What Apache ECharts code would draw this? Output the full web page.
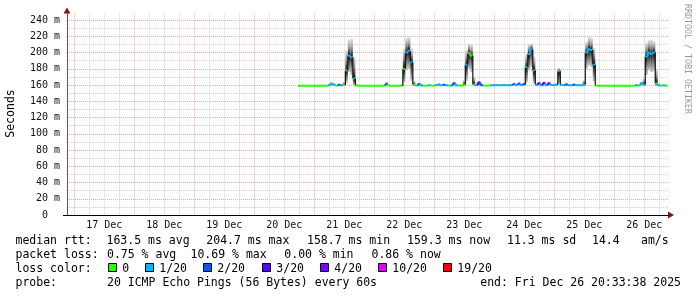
<!DOCTYPE html>
<html><head><meta charset="utf-8">
<script src="https://cdn.jsdelivr.net/npm/echarts@6/dist/echarts.min.js"></script>
<style>html,body{margin:0;padding:0;background:#fff}#c{width:697px;height:297px}</style>
</head><body><div id="c"></div>
<script>
// time of first sample, in hours since 17 Dec 00:00, and spacing of samples
const startHour = 90;
const stepHours = 1;

// median RTT (ms) per sample
const median = [
159.0,159.1,159.0,159.2,159.0,159.1,159.0,159.1,159.0,159.2,
159.0,159.1,159.6,161.5,160.4,159.3,160.2,159.6,160.0,178,
196,194,168,159.3,159.1,159.0,159.2,159.0,159.1,159.0,
159.2,159.0,159.1,159.0,159.2,161.2,159.3,159.0,159.1,159.0,
159.2,159.1,180,200,202,188,160.2,159.4,161.0,159.4,
159.2,159.1,159.6,159.2,159.1,160.1,160.5,159.6,160.2,159.6,
159.3,159.4,162.0,159.6,159.3,159.3,160.5,185,199,196,
160.5,159.6,163.0,159.7,159.3,159.2,159.3,159.6,159.7,159.8,
159.6,159.7,159.9,159.7,159.6,159.8,161.0,160.0,161.5,159.8,
161.0,182,198,204,178,160.2,162.0,159.6,162.5,159.6,
162.0,160.0,159.8,160.4,177,160.0,159.7,160.5,159.7,159.6,
160.3,159.7,159.8,159.6,160.5,200,204,203,185,159.2,
159.0,159.1,159.0,159.2,159.0,159.1,159.0,159.1,159.0,159.2,
159.0,159.1,159.0,159.1,159.2,159.5,159.3,162.0,160.5,195,
200,198,200,162,159.5,159.3,159.5,159.2
];
// loss level index per sample (0 -> 0, 1 -> 1/20, 2 -> 2/20, 3 -> 3/20 ...)
const loss = [
0,0,0,0,0,0,0,0,0,0,
0,0,1,1,1,0,2,1,0,0,
1,1,1,0,0,0,0,0,0,0,
0,0,0,0,0,2,0,0,0,0,
0,0,0,1,1,1,0,0,2,1,
0,0,1,0,0,1,1,1,2,1,
0,1,2,1,0,0,0,1,0,0,
0,1,3,2,0,0,0,1,1,1,
1,1,1,1,1,1,2,1,2,1,
2,1,1,1,1,1,3,1,3,1,
3,1,1,1,1,1,1,2,1,1,
2,1,1,1,1,1,1,1,1,0,
0,0,0,0,0,0,0,0,0,0,
0,0,0,0,0,1,0,1,1,1,
1,1,1,0,1,0,1,0
];
// smoke: lowest and highest ping (ms) per sample
const smokeLo = [
158.7,158.8,158.7,158.8,158.7,158.8,158.7,158.8,158.7,158.8,
158.7,158.8,158.9,159.4,159.0,158.9,159.0,158.9,159.0,163,
176,172,160,158.9,158.8,158.7,158.8,158.7,158.8,158.7,
158.8,158.7,158.8,158.7,158.8,159.2,158.9,158.7,158.8,158.7,
158.8,158.8,163,178,180,165,159.0,158.9,159.2,158.9,
158.8,158.8,158.9,158.8,158.8,159.0,159.1,158.9,159.0,158.9,
158.9,158.9,159.3,158.9,158.9,158.9,159.0,165,180,176,
159.0,158.9,159.5,159.0,158.9,158.8,158.9,158.9,159.0,159.0,
158.9,159.0,159.1,159.0,158.9,159.0,159.2,159.1,159.3,159.0,
159.2,163,178,182,162,159.1,159.5,158.9,159.6,158.9,
159.5,159.1,159.0,159.2,162,159.1,159.0,159.3,159.0,158.9,
159.2,159.0,159.0,158.9,159.0,180,184,182,165,158.9,
158.7,158.8,158.7,158.8,158.7,158.8,158.7,158.8,158.7,158.8,
158.7,158.8,158.7,158.8,158.8,158.9,158.9,159.4,159.0,172,
178,176,177,159.0,158.9,158.9,158.9,158.8
];
const smokeHi = [
159.6,159.7,159.8,159.9,159.6,159.7,159.8,159.7,159.6,159.9,
159.7,159.8,161.0,163.5,162.0,160.2,162.0,161.0,164.0,203,
216,217,195,161.0,159.8,159.7,159.9,159.6,159.8,159.7,
159.9,159.7,159.8,159.7,159.9,163.5,160.2,159.7,159.8,159.7,
159.9,160.5,205,218,219,205,165,160.5,163.0,161.0,
160.2,159.9,161.0,160.2,160.0,161.5,162.0,161.0,162.0,161.0,
160.4,161.0,164.0,161.0,160.3,160.5,166,203,211,210,
170,161.0,165.0,161.5,160.2,160.1,160.2,161.0,161.0,161.2,
161.0,161.0,161.5,161.0,161.0,161.2,163.0,161.5,163.5,161.2,
163.0,198,210,211,196,162.0,164.0,161.0,164.5,161.0,
164.0,161.5,161.2,162.0,181,161.5,161.0,162.5,161.0,161.0,
162.0,161.0,161.2,161.0,166,213,219,218,206,160.2,
159.6,159.7,159.8,159.9,159.6,159.7,159.8,159.7,159.6,159.9,
159.7,159.8,159.7,159.8,160.0,161.0,160.2,164.0,168,212,
215,216,214,180,161.0,160.2,161.0,159.8
];

const lossLabels = ['0','1/20','2/20','3/20','4/20','10/20','19/20'];
const lossColors = ['#26ff00','#00b8ff','#0059ff','#5e00ff','#7e00ff','#dd00ff','#ff0000'];
const dayLabels = ['17 Dec','18 Dec','19 Dec','20 Dec','21 Dec','22 Dec','23 Dec','24 Dec','25 Dec','26 Dec'];
const yTickValues = [0,20,40,60,80,100,120,140,160,180,200,220,240];
const yTickLabels = ['0  ','20 m','40 m','60 m','80 m','100 m','120 m','140 m','160 m','180 m','200 m','220 m','240 m'];

const legendRtt = [['median rtt:',15.5],['163.5 ms avg',106.5],['204.7 ms max',206.3],['158.7 ms min',307],['159.3 ms now',407],['11.3 ms sd',507],['14.4',592],['am/s',641]];
const legendLoss = [['packet loss:',15.5],['0.75 % avg',107],['10.69 % max',190.5],['0.00 % min',284.3],['0.86 % now',371.5]];
const legendProbe = [['probe:',15.5],['20 ICMP Echo Pings (56 Bytes) every 60s',107]];
const endText = 'end: Fri Dec 26 20:33:38 2025';
const boxX = [108,145,203,262,320,378,443];

const MONO = '"DejaVu Sans Mono", monospace';
const RED = '#efa9a9';
const GRAY = '#cfcfcf';

const rows = median.map((m, i) => [startHour + i * stepHours, smokeLo[i], smokeHi[i], m, loss[i]]);

const chart = echarts.init(document.getElementById('c'), null, {renderer: 'canvas'});

const graphics = [];
function txt(x, y, s, extra) {
  graphics.push(Object.assign({type: 'text', x: x, y: y, silent: true,
    style: {text: s, font: '11.5px ' + MONO, fill: '#000', align: 'left', verticalAlign: 'middle'}}, extra || {}));
}
legendRtt.forEach(a => txt(a[1], 241, a[0]));
legendLoss.forEach(a => txt(a[1], 255, a[0]));
txt(15.5, 269, 'loss color:');
boxX.forEach((bx, k) => {
  graphics.push({type: 'rect', silent: true, shape: {x: bx + 0.5, y: 263.5, width: 8, height: 8},
    style: {fill: lossColors[k], stroke: '#000', lineWidth: 1}});
  txt(bx + 14.3, 269, lossLabels[k]);
});
legendProbe.forEach(a => txt(a[1], 283, a[0]));
graphics.push({type: 'text', x: 681, y: 283, silent: true,
  style: {text: endText, font: '11.5px ' + MONO, fill: '#000', align: 'right', verticalAlign: 'middle'}});
graphics.push({type: 'text', x: 11, y: 113.5, rotation: Math.PI / 2, silent: true,
  style: {text: 'Seconds', font: '11.5px ' + MONO, fill: '#000', align: 'center', verticalAlign: 'middle'}});
graphics.push({type: 'text', x: 687.5, y: 59, rotation: -Math.PI / 2, silent: true,
  style: {text: 'RRDTOOL / TOBI OETIKER', font: '8.3px ' + MONO, fill: '#9a9a9a', align: 'center', verticalAlign: 'middle'}});
// axis arrows and short axis extension left of the y axis
graphics.push({type: 'polygon', silent: true, shape: {points: [[63.5, 13.5], [70.5, 13.5], [67, 7.5]]}, style: {fill: '#8b1010'}});
graphics.push({type: 'polygon', silent: true, shape: {points: [[668, 211.5], [668, 218.5], [674, 215]]}, style: {fill: '#8b1010'}});
graphics.push({type: 'line', silent: true, shape: {x1: 63, y1: 215.5, x2: 67, y2: 215.5}, style: {stroke: '#000', lineWidth: 1}});

const option = {
  animation: false,
  backgroundColor: '#ffffff',
  grid: [
    {left: 67, right: 29, top: 13.5, bottom: 82},
    {left: 74.3, right: 37.7, top: 13.5, bottom: 82},
    {left: 67, right: 29, top: 20, bottom: 82}
  ],
  xAxis: [
    {gridIndex: 0, type: 'value', min: -2.9, max: 237.6,
      axisLine: {show: true, onZero: false, lineStyle: {color: '#000', width: 1}},
      axisTick: {show: false}, axisLabel: {show: false}, splitLine: {show: false}},
    {gridIndex: 1, type: 'value', min: 0, max: 234, interval: 6,
      axisLine: {show: false}, axisTick: {show: false},
      axisLabel: {interval: 0, margin: 5, fontFamily: MONO, fontSize: 10, color: '#111',
        formatter: v => (v % 24 === 12 ? dayLabels[(v - 12) / 24] : '')},
      splitLine: {show: true, lineStyle: {color: [RED, GRAY, GRAY, GRAY], width: 1, type: [1, 1]}}},
    {gridIndex: 2, type: 'value', min: 0, max: 1, show: false}
  ],
  yAxis: [
    {gridIndex: 0, type: 'value', min: 0, max: 248,
      axisLine: {show: true, onZero: false, lineStyle: {color: '#555', width: 1}},
      axisTick: {show: false}, axisLabel: {show: false}, splitLine: {show: false}},
    {gridIndex: 1, type: 'value', min: 0, max: 1, show: false},
    {gridIndex: 2, type: 'value', min: 0, max: 240, interval: 10,
      axisLine: {show: false}, axisTick: {show: false},
      axisLabel: {margin: 7, fontFamily: MONO, fontSize: 10, color: '#111',
        formatter: v => { const k = yTickValues.indexOf(v); return k >= 0 ? yTickLabels[k] : ''; }},
      splitLine: {show: true, lineStyle: {color: [RED, GRAY], width: 1, type: [1, 1]}}}
  ],
  series: [
    {type: 'custom', xAxisIndex: 0, yAxisIndex: 0, data: rows, encode: {x: 0, y: [1, 2]}, silent: true,
      renderItem: function (params, api) {
        const t = api.value(0), lo = api.value(1), hi = api.value(2), med = api.value(3);
        const a = api.coord([t - stepHours / 2, hi]);
        const b = api.coord([t + stepHours / 2, lo]);
        const ym = api.coord([t, med])[1];
        const h = b[1] - a[1];
        if (h < 0.6) return {type: 'group', children: []};
        let m = (ym - a[1]) / h;
        m = Math.min(0.97, Math.max(0.03, m));
        return {type: 'rect', shape: {x: a[0], y: a[1], width: b[0] - a[0], height: h},
          style: {fill: {type: 'linear', x: 0, y: 0, x2: 0, y2: 1, colorStops: [
            {offset: 0, color: '#e2e2e2'},
            {offset: m * 0.5, color: '#949494'},
            {offset: m, color: '#080808'},
            {offset: m + (1 - m) * 0.5, color: '#6e6e6e'},
            {offset: 1, color: '#c8c8c8'}]}}};
      }},
    {type: 'custom', xAxisIndex: 0, yAxisIndex: 0, data: rows, encode: {x: 0, y: 3}, silent: true, z: 5,
      renderItem: function (params, api) {
        const i = params.dataIndex;
        const t = api.value(0), med = api.value(3);
        const col = lossColors[api.value(4)];
        const a = api.coord([t - stepHours / 2, med]);
        const b = api.coord([t + stepHours / 2, med]);
        const children = [];
        if (i > 0) {
          const pv = api.coord([t - stepHours / 2, rows[i - 1][3]]);
          const jump = Math.abs(pv[1] - a[1]);
          if (jump > 0.5) {
            children.push({type: 'line', shape: {x1: pv[0], y1: pv[1], x2: a[0], y2: a[1]},
              style: {stroke: jump > 5 ? '#111111' : col, lineWidth: jump > 5 ? 1.2 : 2}});
          }
        }
        children.push({type: 'line', shape: {x1: a[0], y1: a[1], x2: b[0], y2: b[1]},
          style: {stroke: col, lineWidth: 2}});
        return {type: 'group', children: children};
      }}
  ],
  graphic: {elements: graphics}
};
chart.setOption(option);
</script>
</body></html>
